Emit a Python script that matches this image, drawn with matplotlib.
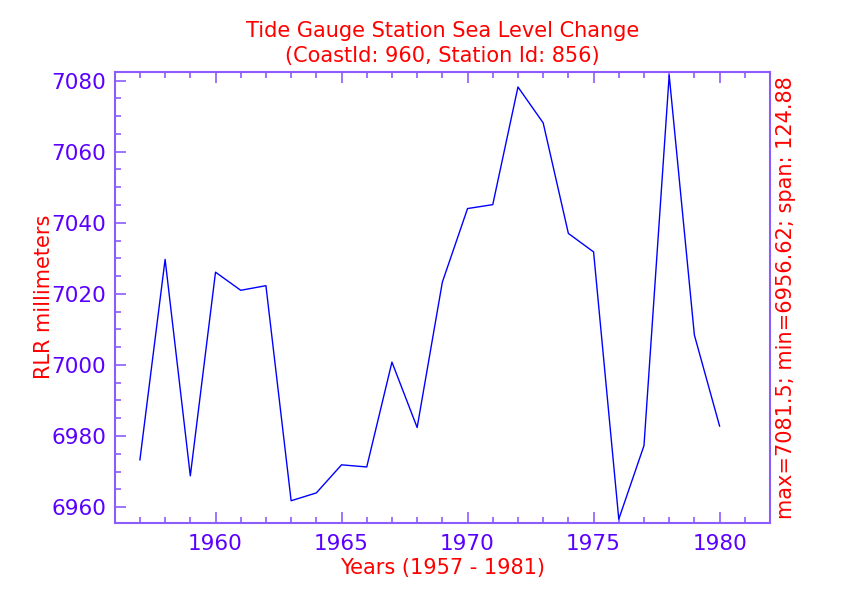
import numpy as np
import matplotlib.pyplot as plt
from matplotlib.ticker import MultipleLocator

years = [1957, 1958, 1959, 1960, 1961, 1962, 1963, 1964, 1965, 1966, 1967, 1968,
         1969, 1970, 1971, 1972, 1973, 1974, 1975, 1976, 1977, 1978, 1979, 1980]
rlr_mm = [6973.3, 7029.7, 6968.8, 7026.1, 7021.0, 7022.3, 6961.8, 6964.0,
          6971.9, 6971.3, 7000.8, 6982.4, 7023.3, 7044.0, 7045.1, 7078.2,
          7068.1, 7037.0, 7031.8, 6956.62, 6977.3, 7081.5, 7008.4, 6982.8]

tick_col = '#5a00ff'
axis_col = '#8c5cff'
red = '#ff0000'

fig = plt.figure(figsize=(8.42, 5.95), dpi=100)
ax = fig.add_axes([114.7 / 842, 1 - 522.7 / 595, (770 - 114.7) / 842, (522.7 - 71.7) / 595])

ax.plot(years, rlr_mm, color='#0000ff', lw=1)

vmin, vmax = min(rlr_mm), max(rlr_mm)
ax.set_xlim(1956, 1982)
ax.set_ylim(vmin - 1, vmax + 1)

ax.xaxis.set_major_locator(MultipleLocator(5))
ax.xaxis.set_minor_locator(MultipleLocator(1))
ax.yaxis.set_major_locator(MultipleLocator(20))
ax.yaxis.set_minor_locator(MultipleLocator(5))

ax.tick_params(which='both', direction='in', top=True, right=True, color=axis_col,
               labelcolor=tick_col, labelsize=15.5)
ax.tick_params(which='major', length=8, width=1.2, pad=6)
ax.tick_params(which='minor', length=4.5, width=1.2)
ax.tick_params(axis='x', which='major', pad=8)
for s in ax.spines.values():
    s.set_color(axis_col)
    s.set_linewidth(1.5)

ax.set_title('Tide Gauge Station Sea Level Change\n(CoastId: 960, Station Id: 856)',
             color=red, fontsize=15, pad=7, linespacing=1.3)
ax.set_xlabel('Years (1957 - 1981)', color=red, fontsize=15, labelpad=3)
ax.set_ylabel('RLR millimeters', color=red, fontsize=15, labelpad=-2)

span = vmax - vmin
ax2 = ax.twinx()
ax2.set_yticks([])
ax2.set_ylabel(f'max={vmax}; min={vmin}; span: {span:.2f}', color=red, fontsize=15,
               labelpad=4)
for s in ax2.spines.values():
    s.set_visible(False)

fig.savefig('out.png', dpi=100)
